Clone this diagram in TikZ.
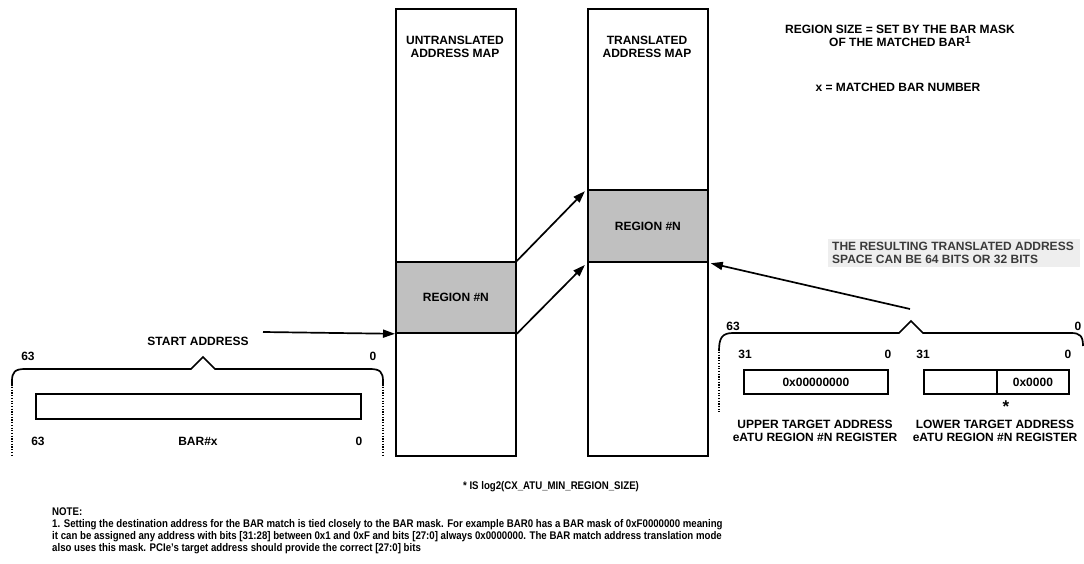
\documentclass[tikz,border=0pt]{standalone}
\usepackage{fontspec}
\setmainfont{Liberation Sans}
\newfontfamily\narrowfont[FakeStretch=0.87]{Liberation Sans}
\usetikzlibrary{arrows.meta}
\definecolor{regiongray}{HTML}{C0C0C0}
\definecolor{notebg}{HTML}{EEEEEE}
\definecolor{notetext}{HTML}{3A3A3A}
\begin{document}
\begin{tikzpicture}[x=1pt,y=-1pt,
  lab/.style={font=\fontsize{12}{12.5}\selectfont\bfseries, align=center, inner sep=0},
  small/.style={font=\narrowfont\fontsize{11.1}{12}\selectfont\bfseries, inner sep=0},
  box/.style={draw, line width=1.8pt, inner sep=0, anchor=north west},
  arr/.style={line width=1.7pt, -{Triangle[length=12pt,width=8pt]}},
  brace/.style={line width=1.7pt},
  dots/.style={line width=1.8pt, dash pattern=on 1.2pt off 1.5pt}
]
\useasboundingbox (0,0) rectangle (1084,564);

% address maps
\node[box, minimum width=120, minimum height=447] (umap) at (395,8) {};
\node[box, minimum width=120, minimum height=447] (tmap) at (587,8) {};
\node[lab] (utitle) at (455,47) {UNTRANSLATED\\ADDRESS MAP};
\node[lab] (ttitle) at (647,47) {TRANSLATED\\ADDRESS MAP};
\node[box, fill=regiongray, minimum width=120, minimum height=71, lab, anchor=north west] (ureg) at (395,261) {REGION \#N};
\node[box, fill=regiongray, minimum width=120, minimum height=72, lab, anchor=north west] (treg) at (587,189) {REGION \#N};

% arrows between maps
\draw[arr, shorten >=3pt] (ureg.north east) -- (treg.north west);
\draw[arr, shorten >=3pt] (ureg.south east) -- (treg.south west);

% start address
\coordinate (sastart) at (263,332);
\draw[arr] (sastart) -- (ureg.south west);
\node[lab] (salab) at (198,341) {START ADDRESS};
\node[lab] (l63a) at (28,356) {63};
\node[lab] (l0a) at (373,356) {0};
\draw[brace] (12,386) -- (12,381) .. controls (12,372) and (15,369) .. (25,369) -- (191,369) -- (203,357) -- (215,369) -- (370,369) .. controls (380,369) and (383,372) .. (383,381) -- (383,386);
\draw[dots] (12,387) -- (12,455);
\draw[dots] (383,387) -- (383,455);
\node[box, minimum width=325, minimum height=25] (bar) at (35,393) {};
\node[lab] (l63b) at (38,441) {63};
\node[lab] (barlab) at (198,441) {BAR\#x};
\node[lab] (l0b) at (359,441) {0};

% right side
\coordinate (rpeak) at (910,309);
\draw[arr, shorten >=2pt] (rpeak) -- (treg.south east);
\node[anchor=north west, fill=notebg, minimum width=252, minimum height=28, inner sep=0] (graybox) at (828,239) {};
\node[lab, anchor=west, align=left, text=notetext] (graytext) at (832,253) {THE RESULTING TRANSLATED ADDRESS\\SPACE CAN BE 64 BITS OR 32 BITS};

\draw[brace] (719,351) .. controls (719,338) and (722,333) .. (733,333) -- (899,333) -- (911,321) -- (923,333) -- (1071,333) .. controls (1080,333) and (1083,336) .. (1083,346);
\draw[dots] (719,352) -- (719,412);
\node[lab] (l63c) at (733,326) {63};
\node[lab] (l0c) at (1078,326) {0};
\node[lab] (l31u) at (745,354) {31};
\node[lab] (l0u) at (888,354) {0};
\node[lab] (l31l) at (923,354) {31};
\node[lab] (l0l) at (1068,354) {0};
\node[box, minimum width=144, minimum height=24, lab] (upper) at (743,369) {0x00000000};
\node[box, minimum width=73, minimum height=24] (lowerA) at (923,369) {};
\node[box, minimum width=72, minimum height=24, lab] (lowerB) at (996,369) {0x0000};
\node[font=\fontsize{17}{17}\selectfont\bfseries, inner sep=0] (star) at (1006,407) {*};
\node[lab] (uppertxt) at (815,431) {UPPER TARGET ADDRESS\\eATU REGION \#N REGISTER};
\node[lab] (lowertxt) at (995,431) {LOWER TARGET ADDRESS\\eATU REGION \#N REGISTER};

% top right notes
\node[lab] (regsize) at (900,36) {REGION SIZE = SET BY THE BAR MASK\\OF THE MATCHED BAR\raisebox{3pt}{\fontsize{10.5}{10}\selectfont 1}};
\node[lab] (xdef) at (898,87) {x = MATCHED BAR NUMBER};

% bottom notes
\node[small] (starnote) at (551,487) {* IS log2(CX\_ATU\_MIN\_REGION\_SIZE)};
\node[small, anchor=north west, align=left] (note) at (52,508) {NOTE:\\
1. Setting the destination address for the BAR match is tied closely to the BAR mask. For example BAR0 has a BAR mask of 0xF0000000 meaning\\
it can be assigned any address with bits [31:28] between 0x1 and 0xF and bits [27:0] always 0x0000000. The BAR match address translation mode\\
also uses this mask. PCIe’s target address should provide the correct [27:0] bits};
\end{tikzpicture}
\end{document}
